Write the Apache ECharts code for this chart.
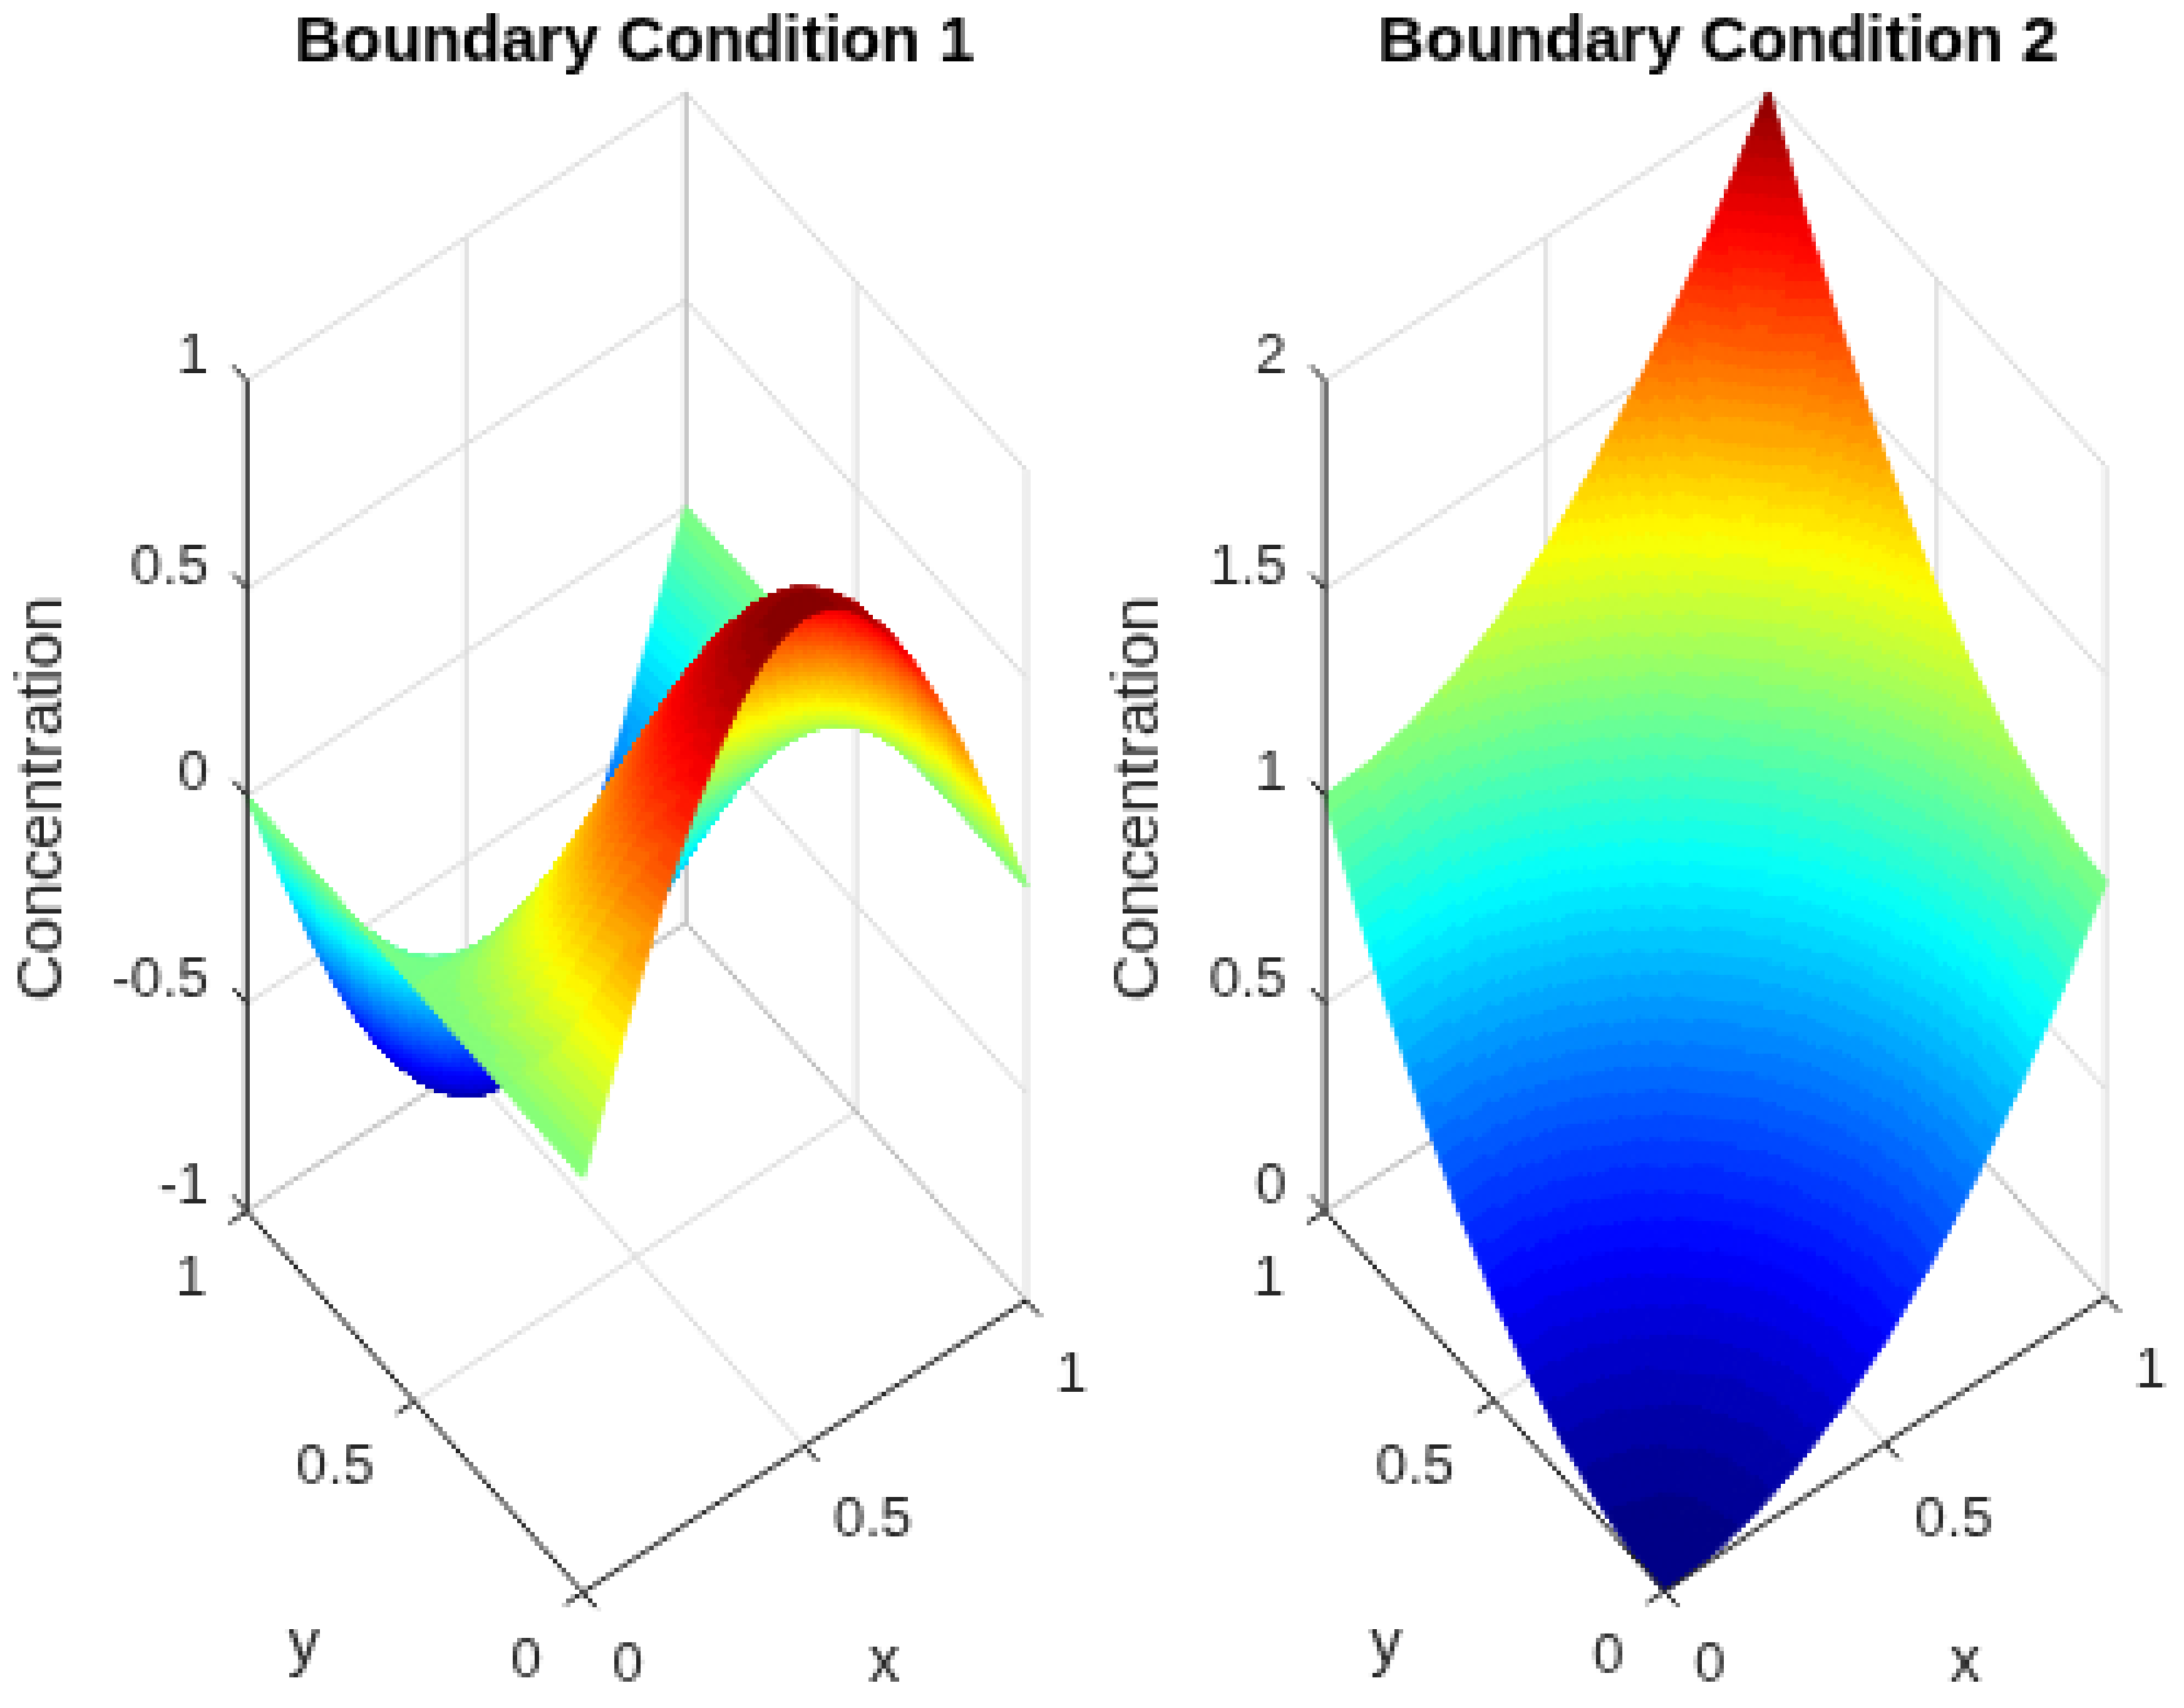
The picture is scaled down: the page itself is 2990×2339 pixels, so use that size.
<!DOCTYPE html>
<html><head><meta charset="utf-8">
<style>html,body{margin:0;padding:0;background:#fff}#c{width:2990px;height:2339px}#c canvas{image-rendering:pixelated}</style>
<script src="https://cdn.jsdelivr.net/npm/echarts@6/dist/echarts.min.js"></script>
</head><body><div id="c"></div>
<script>
// ---------- data ----------
const xyTicks = [0, 0.5, 1];
const xyTickLabels = ['0', '0.5', '1'];
const zTicks1 = [-1, -0.5, 0, 0.5, 1];
const zTickLabels1 = ['-1', '-0.5', '0', '0.5', '1'];
const zTicks2 = [0, 0.5, 1, 1.5, 2];
const zTickLabels2 = ['0', '0.5', '1', '1.5', '2'];
const titles = ['Boundary Condition 1', 'Boundary Condition 2'];
// rows: y = 0 .. 1, columns: x = 0 .. 1
const surface1 = [
[0,.156,.309,.454,.588,.707,.809,.891,.951,.988,1,.988,.951,.891,.809,.707,.588,.454,.309,.156,0],
[0,.154,.305,.449,.581,.698,.799,.880,.940,.976,.988,.976,.940,.880,.799,.698,.581,.449,.305,.154,0],
[0,.148,.294,.432,.559,.672,.769,.847,.904,.940,.951,.940,.904,.847,.769,.672,.559,.432,.294,.148,0],
[0,.139,.275,.405,.524,.630,.721,.794,.847,.880,.891,.880,.847,.794,.721,.630,.524,.405,.275,.139,0],
[0,.126,.250,.367,.476,.572,.655,.721,.769,.799,.809,.799,.769,.721,.655,.572,.476,.367,.250,.126,0],
[0,.110,.218,.321,.416,.500,.572,.630,.672,.698,.707,.698,.672,.630,.572,.500,.416,.321,.218,.110,0],
[0,.092,.182,.267,.346,.416,.476,.524,.559,.581,.588,.581,.559,.524,.476,.416,.346,.267,.182,.092,0],
[0,.071,.140,.206,.267,.321,.367,.405,.432,.449,.454,.449,.432,.405,.367,.321,.267,.206,.140,.071,0],
[0,.048,.095,.140,.182,.218,.250,.275,.294,.305,.309,.305,.294,.275,.250,.218,.182,.140,.095,.048,0],
[0,.024,.048,.071,.092,.110,.126,.139,.148,.154,.156,.154,.148,.139,.126,.110,.092,.071,.048,.024,0],
[0,0,0,0,0,0,0,0,0,0,0,0,0,0,0,0,0,0,0,0,0],
[0,-.024,-.048,-.071,-.092,-.110,-.126,-.139,-.148,-.154,-.156,-.154,-.148,-.139,-.126,-.110,-.092,-.071,-.048,-.024,0],
[0,-.048,-.095,-.140,-.182,-.218,-.250,-.275,-.294,-.305,-.309,-.305,-.294,-.275,-.250,-.218,-.182,-.140,-.095,-.048,0],
[0,-.071,-.140,-.206,-.267,-.321,-.367,-.405,-.432,-.449,-.454,-.449,-.432,-.405,-.367,-.321,-.267,-.206,-.140,-.071,0],
[0,-.092,-.182,-.267,-.346,-.416,-.476,-.524,-.559,-.581,-.588,-.581,-.559,-.524,-.476,-.416,-.346,-.267,-.182,-.092,0],
[0,-.110,-.218,-.321,-.416,-.500,-.572,-.630,-.672,-.698,-.707,-.698,-.672,-.630,-.572,-.500,-.416,-.321,-.218,-.110,0],
[0,-.126,-.250,-.367,-.476,-.572,-.655,-.721,-.769,-.799,-.809,-.799,-.769,-.721,-.655,-.572,-.476,-.367,-.250,-.126,0],
[0,-.139,-.275,-.405,-.524,-.630,-.721,-.794,-.847,-.880,-.891,-.880,-.847,-.794,-.721,-.630,-.524,-.405,-.275,-.139,0],
[0,-.148,-.294,-.432,-.559,-.672,-.769,-.847,-.904,-.940,-.951,-.940,-.904,-.847,-.769,-.672,-.559,-.432,-.294,-.148,0],
[0,-.154,-.305,-.449,-.581,-.698,-.799,-.880,-.940,-.976,-.988,-.976,-.940,-.880,-.799,-.698,-.581,-.449,-.305,-.154,0],
[0,-.156,-.309,-.454,-.588,-.707,-.809,-.891,-.951,-.988,-1,-.988,-.951,-.891,-.809,-.707,-.588,-.454,-.309,-.156,0]
];
const surface2 = [
[0,.01,.04,.09,.16,.25,.36,.49,.64,.81,1],
[.01,.02,.05,.10,.17,.26,.37,.50,.65,.82,1.01],
[.04,.05,.08,.13,.20,.29,.40,.53,.68,.85,1.04],
[.09,.10,.13,.18,.25,.34,.45,.58,.73,.90,1.09],
[.16,.17,.20,.25,.32,.41,.52,.65,.80,.97,1.16],
[.25,.26,.29,.34,.41,.50,.61,.74,.89,1.06,1.25],
[.36,.37,.40,.45,.52,.61,.72,.85,1.00,1.17,1.36],
[.49,.50,.53,.58,.65,.74,.85,.98,1.13,1.30,1.49],
[.64,.65,.68,.73,.80,.89,1.00,1.13,1.28,1.45,1.64],
[.81,.82,.85,.90,.97,1.06,1.17,1.30,1.45,1.62,1.81],
[1,1.01,1.04,1.09,1.16,1.25,1.36,1.49,1.64,1.81,2]
];

// ---------- layout ----------
const FONT = '"Liberation Sans", Arial, Helvetica, sans-serif';
const panels = [
  { z: surface1, sub: 5, zMin: -1, zMax: 1, zTicks: zTicks1, zLabels: zTickLabels1, title: titles[0],
    A: [338, 1655], B: [797, 2176], C: [1404, 1777], D: [938, 1261], titleX: 864, xName: [1209, 2275], yName: [416, 2250], zName: [61, 1091] },
  { z: surface2, sub: 12, zMin: 0, zMax: 2, zTicks: zTicks2, zLabels: zTickLabels2, title: titles[1],
    A: [1813, 1655], B: [2277, 2174], C: [2881, 1772], D: [2419, 1260], titleX: 2346, xName: [2689, 2275], yName: [1897, 2250], zName: [1560, 1091] }
];
const Z_SPAN = 1134, TICK = 0.04;
const GRID_LIGHT = '#dedede', GRID_DARK = '#bdbdbd', AXIS = '#262626', TEXT = '#262626';

function project(p, x, y, z) {
  const a = (1 - x) * (1 - y), b = x * (1 - y), c = (1 - x) * y, d = x * y;
  return [
    a * p.B[0] + b * p.C[0] + c * p.A[0] + d * p.D[0],
    a * p.B[1] + b * p.C[1] + c * p.A[1] + d * p.D[1] - (z - p.zMin) / (p.zMax - p.zMin) * Z_SPAN
  ];
}
function jet(z, p) {
  const t0 = Math.max(0, Math.min(0.99999, (z - p.zMin) / (p.zMax - p.zMin)));
  const t = (Math.floor(t0 * 64) + 0.5) / 64;
  const ch = v => Math.round(255 * Math.max(0, Math.min(1, 1.5 - Math.abs(4 * t - v))));
  return 'rgb(' + ch(3) + ',' + ch(2) + ',' + ch(1) + ')';
}

// segments [panel, x1,y1,z1, x2,y2,z2, kind]  0 light grid, 1 dark grid, 2 axis
function segments(pi) {
  const p = panels[pi], s = [], n = p.zMin, m = p.zMax;
  const add = (a, b, k) => s.push([pi, a[0], a[1], a[2], b[0], b[1], b[2], k]);
  xyTicks.forEach(t => {
    if (t > 0 && t < 1) {
      add([t, 0, n], [t, 1, n], 0); add([0, t, n], [1, t, n], 0);
      add([t, 1, n], [t, 1, m], 0); add([1, t, n], [1, t, m], 0);
    }
  });
  p.zTicks.forEach(t => {
    if (t > n) { add([0, 1, t], [1, 1, t], 0); add([1, 1, t], [1, 0, t], 0); }
  });
  add([1, 0, n], [1, 0, m], 0);
  add([0, 1, n], [1, 1, n], 1); add([1, 1, n], [1, 0, n], 1); add([1, 1, n], [1, 1, m], 1);
  return s;
}
function axes(pi) {
  const p = panels[pi], s = [], n = p.zMin, m = p.zMax;
  const add = (a, b) => s.push([pi, a[0], a[1], a[2], b[0], b[1], b[2], 2]);
  add([0, 1, n], [0, 1, m]); add([0, 1, n], [0, 0, n]); add([0, 0, n], [1, 0, n]);
  p.zTicks.forEach(t => add([0, 1, t], [0, 1 + TICK, t]));
  xyTicks.forEach(t => { add([0, t, n], [-TICK, t, n]); add([t, 0, n], [t, -TICK, n]); });
  return s;
}
// text items [x, y, text, align, rotated, size]
function texts(pi) {
  const p = panels[pi], s = [];
  p.zTicks.forEach((t, i) => { const q = project(p, 0, 1, t); s.push([q[0] - 52, q[1] - 30, p.zLabels[i], 'right', 0]); });
  xyTicks.forEach((t, i) => {
    const a = project(p, 0, t, p.zMin); s.push([a[0] - 55, a[1] + 93, xyTickLabels[i], 'right', 0]);
    const b = project(p, t, 0, p.zMin); s.push([b[0] + 40, b[1] + 103, xyTickLabels[i], 'left', 0]);
  });
  s.push([p.xName[0], p.xName[1], 'x', 'center', 0, 86]);
  s.push([p.yName[0], p.yName[1], 'y', 'center', 0, 86]);
  s.push([p.zName[0], p.zName[1], 'Concentration', 'center', 1, 89]);
  return s;
}

function lineSeries(data, width) {
  return {
    type: 'custom', coordinateSystem: 'cartesian2d', silent: true, clip: false, progressive: 0, animation: false,
    data, renderItem(params, api) {
      const p = panels[api.value(0)];
      const a = api.coord(project(p, api.value(1), api.value(2), api.value(3)));
      const b = api.coord(project(p, api.value(4), api.value(5), api.value(6)));
      const k = api.value(7);
      return { type: 'line', shape: { x1: a[0], y1: a[1], x2: b[0], y2: b[1] },
        style: { stroke: k === 2 ? AXIS : k === 1 ? GRID_DARK : GRID_LIGHT, lineWidth: width } };
    }
  };
}
function surfaceSeries(pi) {
  const p = panels[pi], rows = p.z.length, cols = p.z[0].length, cells = [];
  for (let j = rows - 2; j >= 0; j--) for (let i = cols - 2; i >= 0; i--) cells.push([i, j]);
  return {
    type: 'custom', coordinateSystem: 'cartesian2d', silent: true, clip: false, progressive: 0, animation: false,
    data: cells, renderItem(params, api) {
      const i = api.value(0), j = api.value(1), n = p.sub, kids = [];
      const z00 = p.z[j][i], z10 = p.z[j][i + 1], z01 = p.z[j + 1][i], z11 = p.z[j + 1][i + 1];
      const at = (u, v) => (1 - u) * (1 - v) * z00 + u * (1 - v) * z10 + (1 - u) * v * z01 + u * v * z11;
      const pt = (u, v) => api.coord(project(p, (i + u) / (cols - 1), (j + v) / (rows - 1), at(u, v)));
      for (let b = n - 1; b >= 0; b--) for (let a = n - 1; a >= 0; a--) {
        const u0 = a / n, u1 = (a + 1) / n, v0 = b / n, v1 = (b + 1) / n;
        const col = jet(at((u0 + u1) / 2, (v0 + v1) / 2), p);
        kids.push({ type: 'polygon', shape: { points: [pt(u0, v0), pt(u1, v0), pt(u1, v1), pt(u0, v1)] },
          style: { fill: col, stroke: col, lineWidth: 6, lineJoin: 'round' } });
      }
      return { type: 'group', children: kids };
    }
  };
}
function textSeries(data) {
  return {
    type: 'custom', coordinateSystem: 'cartesian2d', silent: true, clip: false, progressive: 0, animation: false,
    data: data.map(d => [d[0], d[1]]),
    renderItem(params, api) {
      const d = data[params.dataIndex], q = api.coord([d[0], d[1]]);
      return { type: 'text', x: q[0], y: q[1], rotation: d[4] ? Math.PI / 2 : 0,
        style: { text: d[2], fill: TEXT, fontFamily: FONT, fontSize: d[5] || 77, textAlign: d[3], verticalAlign: 'middle' } };
    }
  };
}

const chart = echarts.init(document.getElementById('c'), null, { renderer: 'canvas', devicePixelRatio: 1 / 6 });
chart.setOption({
  animation: false,
  backgroundColor: '#fff',
  title: panels.map(p => ({ text: p.title, left: p.titleX, top: 11, textAlign: 'center',
    textStyle: { fontFamily: FONT, fontSize: 89, fontWeight: 'bold', color: '#000' } })),
  grid: { left: 0, top: 0, width: 2990, height: 2339, containLabel: false },
  xAxis: { type: 'value', min: 0, max: 2990, show: false },
  yAxis: { type: 'value', min: 0, max: 2339, inverse: true, show: false },
  series: [
    lineSeries(segments(0).concat(segments(1)), 6),
    surfaceSeries(0),
    surfaceSeries(1),
    lineSeries(axes(0).concat(axes(1)), 6),
    textSeries(texts(0).concat(texts(1)))
  ]
});
</script></body></html>
